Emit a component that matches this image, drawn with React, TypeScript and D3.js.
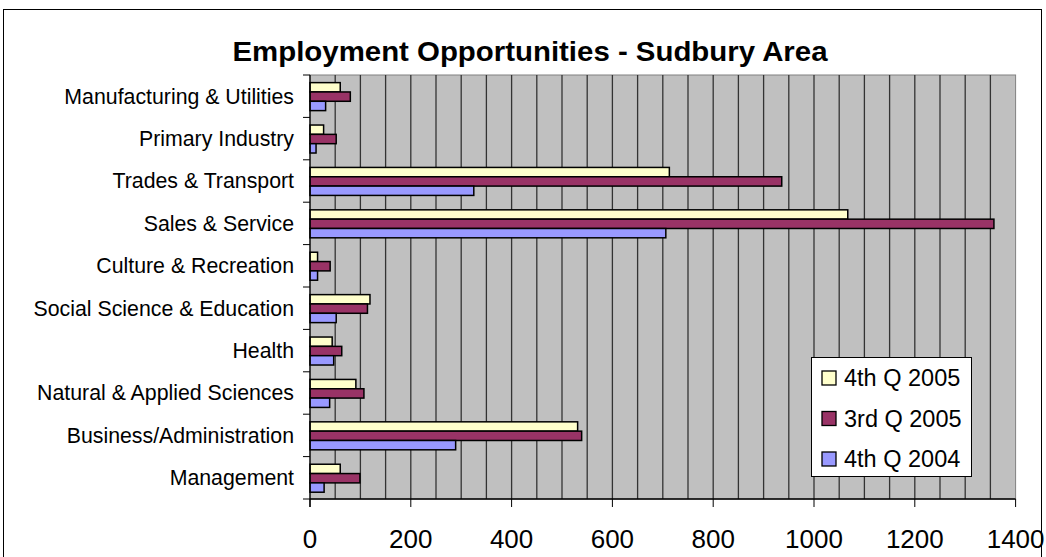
import React from "react";
import * as d3 from "d3";

const categories = [
  "Manufacturing & Utilities",
  "Primary Industry",
  "Trades & Transport",
  "Sales & Service",
  "Culture & Recreation",
  "Social Science & Education",
  "Health",
  "Natural & Applied Sciences",
  "Business/Administration",
  "Management",
];
const seriesNames = ["4th Q 2005", "3rd Q 2005", "4th Q 2004"];
const q4_2005 = [60, 27, 713, 1067, 15, 119, 44, 91, 531, 60];
const q3_2005 = [80, 52, 936, 1357, 40, 114, 63, 107, 539, 99];
const q4_2004 = [31, 12, 325, 706, 15, 52, 47, 39, 289, 28];
const seriesValues = [q4_2005, q3_2005, q4_2004];
const colors = ["#FFFFCC", "#993366", "#9999FF"];
const xTicks = [0, 200, 400, 600, 800, 1000, 1200, 1400];

const W = 1046;
const H = 557;
const font = "Arial, 'Liberation Sans', sans-serif";

export default function App() {
  const left = 310;
  const right = 1015.6;
  const top = 75;
  const bottom = 499;
  const x = d3.scaleLinear().domain([0, 1400]).range([left, right]);
  const y = d3.scaleBand<string>().domain(categories).range([top, bottom]).padding(0);
  const bw = y.bandwidth();
  const inner = d3
    .scaleBand<number>()
    .domain([0, 1, 2])
    .range([bw * 0.18, bw * 0.84])
    .padding(0);
  const grid = d3.range(50, 1400, 50);

  return (
    <svg
      width={W}
      height={H}
      style={{ position: "absolute", left: 0, top: 0, background: "#fff" }}
      fontFamily={font}
    >
      <rect x={3.5} y={9.5} width={1038} height={560} fill="#fff" stroke="#000" strokeWidth={1} />
      <text
        x={530}
        y={61}
        textAnchor="middle"
        fontSize={27}
        fontWeight="bold"
        fill="#000"
        textLength={595}
        lengthAdjust="spacingAndGlyphs"
      >
        Employment Opportunities - Sudbury Area
      </text>
      <rect x={left} y={top} width={right - left} height={bottom - top} fill="#C0C0C0" stroke="#808080" strokeWidth={1} />
      {grid.map((g) => (
        <line key={g} x1={x(g)} x2={x(g)} y1={top} y2={bottom} stroke="#333" strokeWidth={1.3} />
      ))}
      {categories.map((c, i) => (
        <g key={c}>
          {seriesValues.map((vals, s) => (
            <rect
              key={s}
              x={x(0)}
              y={(y(c) as number) + (inner(s) as number)}
              width={x(vals[i]) - x(0)}
              height={inner.bandwidth()}
              fill={colors[s]}
              stroke="#000"
              strokeWidth={1.5}
            />
          ))}
        </g>
      ))}
      {/* y axis */}
      <line x1={left} x2={left} y1={top} y2={bottom + 8} stroke="#000" strokeWidth={1.3} />
      {d3.range(categories.length + 1).map((k) => (
        <line key={k} x1={left - 7} x2={left} y1={top + k * bw} y2={top + k * bw} stroke="#000" strokeWidth={1} />
      ))}
      {categories.map((c) => (
        <text
          key={c}
          x={294}
          y={(y(c) as number) + bw / 2}
          dy="0.35em"
          textAnchor="end"
          fontSize={21.3}
          fill="#000"
        >
          {c}
        </text>
      ))}
      {/* x axis */}
      <line x1={left} x2={right} y1={bottom} y2={bottom} stroke="#000" strokeWidth={1.3} />
      {xTicks.map((t) => (
        <g key={t}>
          <line x1={x(t)} x2={x(t)} y1={bottom} y2={bottom + 8} stroke="#000" strokeWidth={1} />
          <text x={x(t)} y={548} textAnchor="middle" fontSize={26} fill="#000">
            {t}
          </text>
        </g>
      ))}
      {/* legend */}
      <rect x={811.5} y={357.5} width={160} height={119} fill="#fff" stroke="#000" strokeWidth={1} />
      {seriesNames.map((n, s) => (
        <g key={n} transform={`translate(0, ${378 + s * 40.5})`}>
          <rect x={822} y={-7} width={14} height={14} fill={colors[s]} stroke="#000" strokeWidth={1.3} />
          <text x={844} y={0} dy="0.35em" fontSize={23.5} fill="#000">
            {n}
          </text>
        </g>
      ))}
    </svg>
  );
}
